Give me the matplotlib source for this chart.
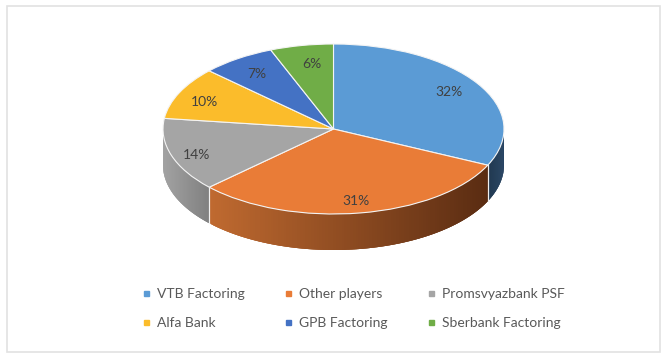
import numpy as np
import matplotlib
matplotlib.use("Agg")
import matplotlib.pyplot as plt
from matplotlib.collections import PolyCollection
from matplotlib.lines import Line2D
from matplotlib.patches import Rectangle

categories = ["VTB Factoring", "Other players", "Promsvyazbank PSF",
              "Alfa Bank", "GPB Factoring", "Sberbank Factoring"]
shares = [32, 31, 14, 10, 7, 6]
colors = ["#5B9BD5", "#E97C37", "#A5A5A5", "#FBBC2B", "#4472C4", "#70AD47"]
# Side-wall shading, left-hand colour then right-hand colour
side_left = ["#20384F", "#C06A30", "#A3A3A3", "#A5A5A5", "#A5A5A5", "#A5A5A5"]
side_right = ["#274463", "#5A2C12", "#808080", "#7F7F7F", "#7F7F7F", "#7F7F7F"]
# Hand placement of the percentage labels, in pixels (right, down)
label_nudge = [(-4, 1), (0, 2), (-2, 4), (-1, 3), (3, 3), (5, 4)]

W, H = 669, 359
cx, cy, rx, ry, depth = 333.5, 129.0, 170.5, 85.0, 36.0

plt.rcParams["font.family"] = ["Lato", "DejaVu Sans"]
fig = plt.figure(figsize=(W / 100, H / 100), dpi=100, facecolor="white")
ax = fig.add_axes([0, 0, 1, 1])

wedges, _, autotexts = ax.pie(
    shares, colors=colors, startangle=90, counterclock=False, radius=1,
    autopct=lambda p: f"{p:.0f}%", pctdistance=0.83,
    wedgeprops=dict(edgecolor="#F4F4F4", linewidth=0.8, zorder=3),
    textprops=dict(color="#404040", fontsize=10, zorder=5),
)
ax.set_aspect("auto")
ax.set_xlim(-cx / rx, (W - cx) / rx)
ax.set_ylim(-(H - cy) / ry, cy / ry)
ax.axis("off")
for txt, (dx, dy) in zip(autotexts, label_nudge):
    x0, y0 = txt.get_position()
    txt.set_position((x0 + dx / rx, y0 - dy / ry))

# Side wall built from the same shares, front half only
h = depth / ry
edges = np.cumsum([0] + shares) / sum(shares) * 2 * np.pi
for i in range(len(shares)):
    a0, a1 = max(edges[i], np.pi / 2), min(edges[i + 1], 3 * np.pi / 2)
    if a1 <= a0:
        continue
    t = np.linspace(a0, a1, 120)
    # sweep from the left so overlapping strips hide their seams
    t = t[::-1]
    x, y = np.sin(t), np.cos(t)
    xmin, xmax = x.min(), x.max()
    c0 = np.array(matplotlib.colors.to_rgb(side_left[i]))
    c1 = np.array(matplotlib.colors.to_rgb(side_right[i]))
    polys, cols = [], []
    for k in range(len(t) - 1):
        e = min(k + 3, len(t) - 1)
        polys.append(list(zip(x[k:e + 1], y[k:e + 1]))
                     + list(zip(x[k:e + 1][::-1], y[k:e + 1][::-1] - h)))
        f = ((x[k] + x[k + 1]) / 2 - xmin) / (xmax - xmin)
        cols.append(c0 + (c1 - c0) * f)
    ax.add_collection(PolyCollection(polys, facecolors=cols, edgecolors="none",
                                     zorder=1))
    # white seam at the slice boundary
    for a in (a0, a1):
        if np.pi / 2 < a < 3 * np.pi / 2:
            ax.plot([np.sin(a)] * 2, [np.cos(a), np.cos(a) - h],
                    color="#F0F0F0", lw=0.8, zorder=2)

# Legend, filled column by column so rows read VTB / Other / Promsvyazbank
order = [0, 3, 1, 4, 2, 5]
handles = [Line2D([], [], linestyle="none", marker="s", markersize=3.6,
                  color=colors[i]) for i in order]
ax.legend(handles, [categories[i] for i in order], ncols=3, frameon=False,
          loc="center", bbox_to_anchor=(352 / W, 1 - 308.5 / H),
          fontsize=10, labelcolor="#595959", handlelength=1.0,
          handletextpad=0.3, columnspacing=2.6, labelspacing=1.2,
          borderpad=0)

fig.add_artist(Rectangle((7 / W, 1 - 352 / H), 653 / W, 346 / H,
                         transform=fig.transFigure, fill=False,
                         edgecolor="#E2E2E2", linewidth=1.2))
fig.savefig("out.png", dpi=100)
